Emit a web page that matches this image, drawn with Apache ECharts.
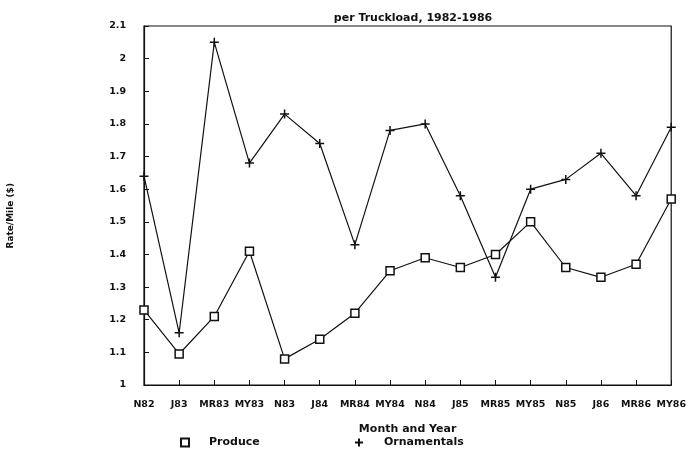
<!DOCTYPE html>
<html><head><meta charset="utf-8">
<script src="https://cdn.jsdelivr.net/npm/echarts@6/dist/echarts.min.js"></script>
<style>html,body{margin:0;padding:0;background:#fff}#c{width:689px;height:450px}</style>
</head><body><div id="c"></div>
<script>
const categories = ['N82','J83','MR83','MY83','N83','J84','MR84','MY84','N84','J85','MR85','MY85','N85','J86','MR86','MY86'];
const produce = [1.23,1.095,1.21,1.41,1.08,1.14,1.22,1.35,1.39,1.36,1.40,1.50,1.36,1.33,1.37,1.57];
const ornamentals = [1.64,1.16,2.05,1.68,1.83,1.74,1.43,1.78,1.80,1.58,1.33,1.60,1.63,1.71,1.58,1.79];
const yTicks = [1,1.1,1.2,1.3,1.4,1.5,1.6,1.7,1.8,1.9,2,2.1];

const font = 'DejaVu Sans';
const plus = 'path://M0,-5L0,5M-5,0L5,0';
const chart = echarts.init(document.getElementById('c'));
chart.setOption({
  animation:false,
  backgroundColor:'#fff',
  title:{text:'per Truckload, 1982-1986',left:408,textAlign:'center',top:8,
    textStyle:{fontFamily:font,fontSize:11,fontWeight:'bold',color:'#111'}},
  grid:{left:144,right:16,top:26,bottom:65,show:true,borderColor:'#111',borderWidth:1.2},
  graphic:[{type:'text',left:6,top:183,rotation:Math.PI/2,
    style:{text:'Rate/Mile ($)',font:'bold 9px "DejaVu Sans"',fill:'#111'}}],
  legend:[
    {left:175,top:432,itemWidth:8,itemHeight:8,data:[{name:'Produce',icon:'rect'}],
     textStyle:{fontFamily:font,fontSize:11,fontWeight:'bold',color:'#111',padding:[0,0,0,15]}},
    {left:349,top:432,itemWidth:8,itemHeight:8,data:[{name:'Ornamentals',icon:plus}],
     textStyle:{fontFamily:font,fontSize:11,fontWeight:'bold',color:'#111',padding:[0,0,0,16]}}
  ],
  xAxis:{type:'category',data:categories,boundaryGap:false,
    name:'Month and Year',nameLocation:'middle',nameGap:39,
    nameTextStyle:{fontFamily:font,fontSize:11,fontWeight:'bold',color:'#111'},
    axisLine:{lineStyle:{color:'#111',width:1.2}},
    axisTick:{inside:true,length:5,lineStyle:{color:'#111'}},
    axisLabel:{fontFamily:font,fontSize:9.5,fontWeight:'bold',color:'#111',margin:15,interval:0},
    splitLine:{show:false}},
  yAxis:{type:'value',min:1,max:2.1,interval:0.1,
    axisLine:{show:true,lineStyle:{color:'#111',width:1.2}},
    axisTick:{show:true,inside:true,length:5,lineStyle:{color:'#111'}},
    axisLabel:{fontFamily:font,fontSize:9.5,fontWeight:'bold',color:'#111',margin:18,
      formatter:v=>{const r=Math.round(v*10)/10;return yTicks.indexOf(r)>=0?String(r):'';}},
    splitLine:{show:false}},
  series:[
    {name:'Produce',type:'line',data:produce,symbol:'rect',symbolSize:8,
     lineStyle:{color:'#111',width:1.2},
     itemStyle:{color:'#fff',borderColor:'#111',borderWidth:1.5}},
    {name:'Ornamentals',type:'line',data:ornamentals,symbol:plus,symbolSize:9,
     lineStyle:{color:'#111',width:1.2},
     itemStyle:{color:'#111',borderColor:'#111',borderWidth:1.5}}
  ]
});
</script></body></html>
